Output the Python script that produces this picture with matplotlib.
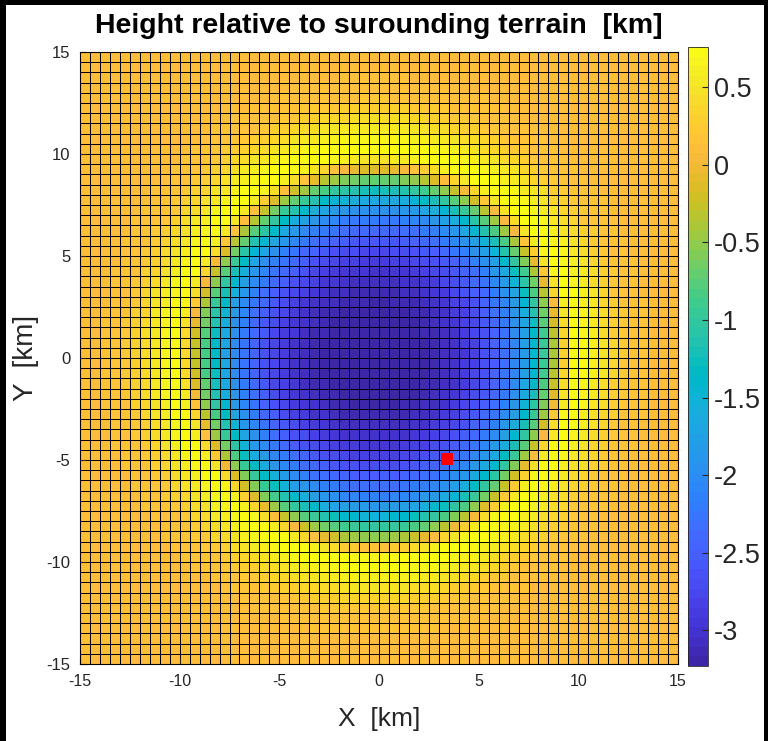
import numpy as np
import matplotlib
matplotlib.use('Agg')
import matplotlib.pyplot as plt
from matplotlib.colors import ListedColormap
from matplotlib.patches import Rectangle

plt.rcParams['font.family'] = ['Liberation Sans', 'DejaVu Sans']
plt.rcParams['axes.unicode_minus'] = False

# parula colormap (MATLAB default, 64 entries)
parula_rgb = [
    [0.2422, 0.1504, 0.6603], [0.2504, 0.1650, 0.7076], [0.2578, 0.1818, 0.7511],
    [0.2647, 0.1978, 0.7952], [0.2706, 0.2147, 0.8364], [0.2751, 0.2342, 0.8710],
    [0.2783, 0.2559, 0.8991], [0.2803, 0.2782, 0.9221], [0.2813, 0.3006, 0.9414],
    [0.2810, 0.3228, 0.9579], [0.2795, 0.3447, 0.9717], [0.2760, 0.3667, 0.9829],
    [0.2699, 0.3892, 0.9906], [0.2602, 0.4123, 0.9952], [0.2440, 0.4358, 0.9988],
    [0.2206, 0.4603, 0.9973], [0.1963, 0.4847, 0.9892], [0.1834, 0.5074, 0.9798],
    [0.1786, 0.5289, 0.9682], [0.1764, 0.5499, 0.9520], [0.1687, 0.5703, 0.9359],
    [0.1540, 0.5902, 0.9218], [0.1460, 0.6091, 0.9079], [0.1380, 0.6276, 0.8973],
    [0.1248, 0.6459, 0.8883], [0.1113, 0.6635, 0.8763], [0.0952, 0.6798, 0.8598],
    [0.0689, 0.6948, 0.8394], [0.0297, 0.7082, 0.8163], [0.0036, 0.7203, 0.7917],
    [0.0067, 0.7312, 0.7660], [0.0433, 0.7411, 0.7394], [0.0964, 0.7500, 0.7120],
    [0.1408, 0.7584, 0.6842], [0.1717, 0.7670, 0.6554], [0.1938, 0.7758, 0.6251],
    [0.2161, 0.7843, 0.5923], [0.2470, 0.7918, 0.5567], [0.2906, 0.7973, 0.5188],
    [0.3406, 0.8008, 0.4789], [0.3909, 0.8029, 0.4354], [0.4456, 0.8024, 0.3909],
    [0.5044, 0.7993, 0.3480], [0.5616, 0.7942, 0.3045], [0.6174, 0.7876, 0.2612],
    [0.6720, 0.7793, 0.2227], [0.7242, 0.7698, 0.1910], [0.7738, 0.7598, 0.1646],
    [0.8203, 0.7498, 0.1535], [0.8634, 0.7406, 0.1596], [0.9035, 0.7330, 0.1774],
    [0.9393, 0.7288, 0.2100], [0.9728, 0.7298, 0.2394], [0.9956, 0.7434, 0.2371],
    [0.9970, 0.7659, 0.2199], [0.9952, 0.7893, 0.2028], [0.9892, 0.8136, 0.1885],
    [0.9786, 0.8386, 0.1766], [0.9676, 0.8639, 0.1643], [0.9610, 0.8890, 0.1537],
    [0.9597, 0.9135, 0.1423], [0.9628, 0.9373, 0.1265], [0.9691, 0.9606, 0.1064],
    [0.9769, 0.9839, 0.0805],
]
parula = ListedColormap(parula_rgb, name='parula')

# grid of the map (0.5 km cells)
x_edges = np.arange(-15, 15.01, 0.5)
y_edges = np.arange(-15, 15.01, 0.5)

# crater height profile: distance from centre [km] -> height [km]
profile_r = [0, 1, 2, 3, 4, 5, 5.5, 6, 6.5, 7, 7.5, 8, 8.5, 9, 9.5,
             10, 10.5, 11, 11.5, 12, 12.5, 13, 14, 16, 22]
profile_h = [-3.23, -3.23, -3.21, -3.15, -3.02, -2.8, -2.65, -2.47, -2.28, -2.06, -1.78,
             -1.38, -0.9, -0.35, 0.35, 0.76, 0.7, 0.58, 0.45, 0.32, 0.22, 0.16,
             0.13, 0.12, 0.12]
crater_center = (-0.2, 0.1)
clim = (-3.23, 0.76)

# marked point
point_x = [3.4]
point_y = [-4.95]

xc = 0.5 * (x_edges[:-1] + x_edges[1:])
yc = 0.5 * (y_edges[:-1] + y_edges[1:])
XX, YY = np.meshgrid(xc, yc)
dist = np.hypot(XX - crater_center[0], YY - crater_center[1])
height = np.interp(dist, profile_r, profile_h)

fig = plt.figure(figsize=(7.68, 7.41), dpi=100)
fig.patch.set_facecolor('black')
fig.patches.append(Rectangle((6 / 768, 0), (764 - 6) / 768, (741 - 5) / 741,
                             transform=fig.transFigure, facecolor='white',
                             edgecolor='none', zorder=-10))

ax = fig.add_axes([80 / 768, 77 / 741, 598 / 768, 612 / 741])
mesh = ax.pcolormesh(x_edges, y_edges, height, cmap=parula,
                     vmin=clim[0], vmax=clim[1],
                     edgecolors='black', linewidth=0.7)
ax.plot(point_x, point_y, 's', color='red', markersize=8.5, markeredgewidth=0)

ax.set_xlim(-15, 15)
ax.set_ylim(-15, 15)
ax.set_xticks(np.arange(-15, 16, 5))
ax.set_yticks(np.arange(-15, 16, 5))
ax.tick_params(direction='in', colors='#262626', length=4)
ax.tick_params(axis='x', labelsize=11.5, pad=7)
ax.tick_params(axis='y', labelsize=12, pad=7)
ax.set_xlabel('X  [km]', fontsize=19, color='#262626', labelpad=13)
ax.set_ylabel('Y  [km]', fontsize=20, color='#262626', labelpad=5)
ax.set_title('Height relative to surounding terrain  [km]', fontsize=20.5,
             fontweight='bold', pad=14)

cax = fig.add_axes([688 / 768, 75 / 741, 20 / 768, 619 / 741])
cb = fig.colorbar(mesh, cax=cax)
cb.set_ticks([0.5, 0, -0.5, -1, -1.5, -2, -2.5, -3])
cb.set_ticklabels(['0.5', '0', '-0.5', '-1', '-1.5', '-2', '-2.5', '-3'])
cax.tick_params(direction='in', labelsize=19.5, colors='#262626', length=4, pad=4)
cb.outline.set_edgecolor('#262626')
cb.outline.set_linewidth(0.6)

fig.savefig('out.png', dpi=100, facecolor=fig.get_facecolor())
